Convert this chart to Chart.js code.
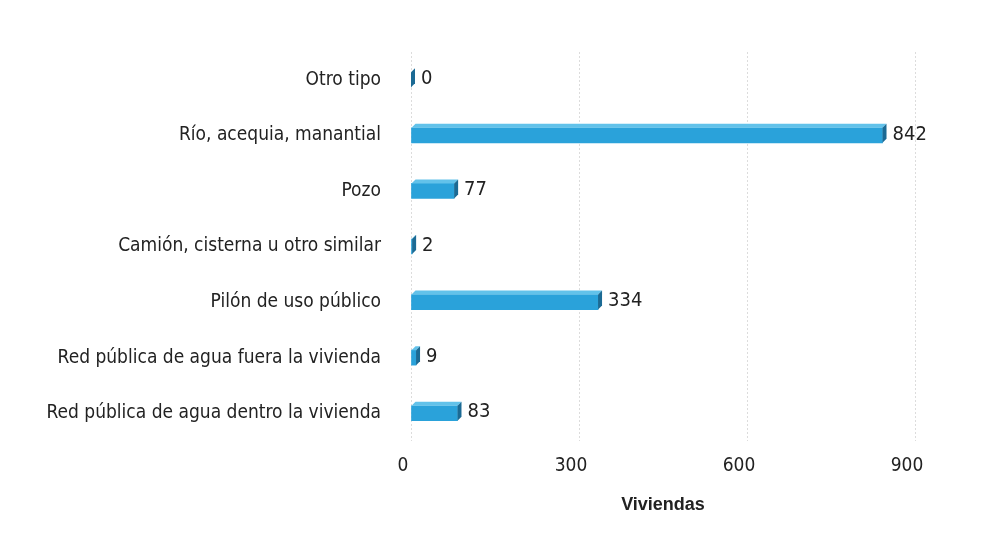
<!DOCTYPE html>
<html>
<head>
<meta charset="utf-8">
<script src="https://cdn.jsdelivr.net/npm/chart.js@4"></script>
<style>
  html, body { margin: 0; padding: 0; background: #fff; }
  #wrap { width: 991px; height: 543px; position: relative; }
</style>
</head>
<body>
<div id="wrap"><canvas id="grafico"></canvas></div>
<script>
// Datos del gráfico
const categorias = [
  'Otro tipo',
  'Río, acequia, manantial',
  'Pozo',
  'Camión, cisterna u otro similar',
  'Pilón de uso público',
  'Red pública de agua fuera la vivienda',
  'Red pública de agua dentro la vivienda'
];
const viviendas = [0, 842, 77, 2, 334, 9, 83];
const ticksX = [0, 300, 600, 900];

const fuente = "'Liberation Sans Narrow', 'DejaVu Sans Condensed', 'Liberation Sans', sans-serif";

// Efecto 3D: cara superior y cara lateral de cada barra
const barras3D = {
  id: 'barras3D',
  afterDatasetsDraw(chart) {
    const ctx = chart.ctx;
    const d = 4;
    chart.getDatasetMeta(0).data.forEach(bar => {
      const top = bar.y - bar.height / 2;
      const bottom = bar.y + bar.height / 2;
      ctx.save();
      // cara superior
      ctx.fillStyle = '#62c2ea';
      ctx.beginPath();
      ctx.moveTo(bar.base, top);
      ctx.lineTo(bar.base + d, top - d);
      ctx.lineTo(bar.x + d, top - d);
      ctx.lineTo(bar.x, top);
      ctx.closePath();
      ctx.fill();
      // cara lateral
      ctx.fillStyle = '#1b6a94';
      ctx.beginPath();
      ctx.moveTo(bar.x, top);
      ctx.lineTo(bar.x + d, top - d);
      ctx.lineTo(bar.x + d, bottom - d);
      ctx.lineTo(bar.x, bottom);
      ctx.closePath();
      ctx.fill();
      ctx.restore();
    });
  }
};

// Etiquetas de valor al final de cada barra
const etiquetas = {
  id: 'etiquetas',
  afterDatasetsDraw(chart) {
    const ctx = chart.ctx;
    const meta = chart.getDatasetMeta(0);
    ctx.save();
    ctx.font = '20px ' + fuente;
    ctx.fillStyle = '#222';
    ctx.textAlign = 'left';
    ctx.textBaseline = 'middle';
    meta.data.forEach((bar, i) => {
      ctx.fillText(String(viviendas[i]), bar.x + 10, bar.y - 1);
    });
    ctx.restore();
  }
};

new Chart(document.getElementById('grafico'), {
  type: 'bar',
  data: {
    labels: categorias,
    datasets: [{
      label: 'Viviendas',
      data: viviendas,
      backgroundColor: '#2aa2da',
      borderWidth: 0,
      barThickness: 15
    }]
  },
  options: {
    indexAxis: 'y',
    responsive: true,
    maintainAspectRatio: false,
    animation: false,
    layout: { padding: { top: 52, right: 76, left: 0, bottom: 0 } },
    plugins: {
      legend: { display: false },
      tooltip: { enabled: false }
    },
    scales: {
      x: {
        min: 0,
        max: 900,
        afterBuildTicks: scale => { scale.ticks = ticksX.map(v => ({ value: v })); },
        afterFit: scale => { scale.height = 543 - 441; },
        grid: { color: '#dcdcdc', lineWidth: 1, drawTicks: false },
        border: { display: false, dash: [2, 2] },
        ticks: {
          color: '#222',
          padding: 14,
          labelOffset: -8,
          font: { family: fuente, size: 19 }
        },
        title: {
          display: true,
          text: 'Viviendas',
          color: '#222',
          padding: { top: 0, bottom: 27 },
          font: { family: "'Liberation Sans', Arial, sans-serif", size: 18, weight: 'bold' }
        }
      },
      y: {
        afterFit: scale => { scale.width = 411; },
        grid: { display: false, drawTicks: false },
        border: { display: false },
        ticks: {
          color: '#222',
          padding: 30,
          font: { family: fuente, size: 19 }
        }
      }
    }
  },
  plugins: [barras3D, etiquetas]
});
</script>
</body>
</html>
